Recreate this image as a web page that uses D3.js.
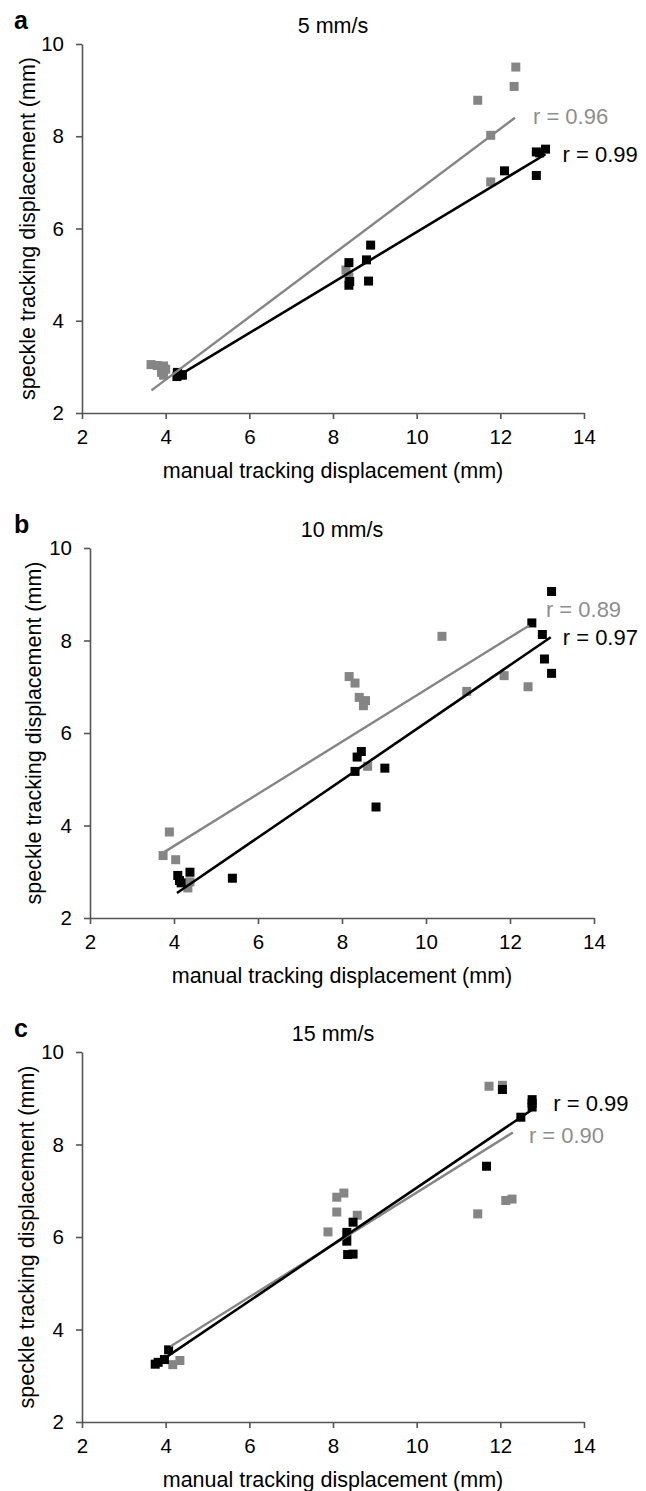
<!DOCTYPE html>
<html>
<head>
<meta charset="utf-8">
<script src="https://cdn.jsdelivr.net/npm/d3@7"></script>
<style>
  body { margin: 0; background: #fff; }
  text { font-family: "Liberation Sans", Arial, sans-serif; }
</style>
</head>
<body>
<svg id="chart"></svg>
<script>
const panelLetters = ['a', 'b', 'c'];
const panelTitles = ['5 mm/s', '10 mm/s', '15 mm/s'];
const xTicks = [2, 4, 6, 8, 10, 12, 14];
const yTicks = [2, 4, 6, 8, 10];
const xTitle = 'manual tracking displacement (mm)';
const yTitle = 'speckle tracking displacement (mm)';

// panel a, 5 mm/s  [manual, speckle]
const a_gray = [[3.65, 3.05], [3.8, 3.03], [3.95, 3.02], [3.9, 2.88], [4.0, 2.95], [3.95, 2.82],
  [8.31, 5.10], [8.38, 4.95], [11.46, 8.78], [12.33, 9.08], [12.37, 9.50], [11.77, 8.02], [11.77, 7.01]];
const a_black = [[4.27, 2.79], [4.36, 2.83], [4.28, 2.88], [4.40, 2.82], [8.38, 5.26], [8.38, 4.77],
  [8.40, 4.85], [8.80, 5.32], [8.90, 5.64], [8.85, 4.86], [12.10, 7.25], [12.86, 7.15],
  [12.86, 7.66], [12.94, 7.64], [13.08, 7.72]];
const a_grayFit = [[3.66, 2.49], [12.35, 8.40]];
const a_blackFit = [[4.22, 2.76], [13.08, 7.61]];
const a_r = ['0.96', '0.99'];

// panel b, 10 mm/s
const b_gray = [[3.74, 3.35], [3.89, 3.86], [4.04, 3.26], [4.33, 2.65], [4.38, 2.78], [8.17, 7.22],
  [8.31, 7.08], [8.41, 6.77], [8.56, 6.70], [8.51, 6.59], [8.61, 5.28], [10.38, 8.09],
  [10.97, 6.90], [11.86, 7.24], [12.43, 7.00]];
const b_black = [[4.09, 2.92], [4.13, 2.81], [4.17, 2.76], [4.38, 2.99], [5.39, 2.86], [8.31, 5.17],
  [8.36, 5.48], [8.46, 5.60], [9.02, 5.24], [8.81, 4.40], [12.52, 8.38], [12.77, 8.13],
  [12.82, 7.60], [12.99, 7.29], [12.99, 9.06]];
const b_grayFit = [[3.67, 3.37], [12.45, 8.32]];
const b_blackFit = [[4.07, 2.54], [12.97, 8.07]];
const b_r = ['0.89', '0.97'];

// panel c, 15 mm/s
const c_gray = [[4.17, 3.24], [4.34, 3.33], [7.88, 6.11], [8.09, 6.54], [8.09, 6.86], [8.26, 6.95],
  [8.58, 6.47], [11.46, 6.50], [11.73, 9.26], [12.05, 9.28], [12.13, 6.79], [12.28, 6.82]];
const c_black = [[3.75, 3.25], [3.82, 3.29], [3.97, 3.35], [4.07, 3.56], [8.33, 6.10], [8.33, 5.91],
  [8.35, 5.62], [8.48, 5.63], [8.48, 6.32], [11.67, 7.53], [12.05, 9.19], [12.49, 8.59],
  [12.76, 8.97], [12.76, 8.81], [12.76, 8.89]];
const c_grayFit = [[4.12, 3.64], [12.30, 8.26]];
const c_blackFit = [[3.75, 3.24], [12.74, 8.74]];
const c_r = ['0.90', '0.99'];

const GRAY = '#858585';
const GRAY_TEXT = '#8e8e8e';
const AXIS = '#555';

const svg = d3.select('#chart').attr('width', 646).attr('height', 1491);

// pixel frame of every panel and where the r labels sit next to the fit ends
const panels = [
  { gray: a_gray, black: a_black, grayFit: a_grayFit, blackFit: a_blackFit, r: a_r,
    left: 82, right: 584, top: 44, bottom: 413, yLabelX: 27,
    grayOff: [18, -2], blackOff: [17, 0] },
  { gray: b_gray, black: b_black, grayFit: b_grayFit, blackFit: b_blackFit, r: b_r,
    left: 90, right: 594, top: 548, bottom: 918, yLabelX: 33,
    grayOff: [17, -17], blackOff: [12, 0] },
  { gray: c_gray, black: c_black, grayFit: c_grayFit, blackFit: c_blackFit, r: c_r,
    left: 82, right: 584, top: 1052, bottom: 1422, yLabelX: 26,
    grayOff: [16, 3], blackOff: [22, -7] }
];

panels.forEach((p, i) => {
  const x = d3.scaleLinear().domain([2, 14]).range([p.left, p.right]);
  const y = d3.scaleLinear().domain([2, 10]).range([p.bottom, p.top]);
  const g = svg.append('g');

  // axes
  const xAxis = g.append('g')
    .attr('transform', `translate(0,${p.bottom})`)
    .call(d3.axisBottom(x).tickValues(xTicks).tickSize(6).tickPadding(10).tickSizeOuter(0));
  const yAxis = g.append('g')
    .attr('transform', `translate(${p.left},0)`)
    .call(d3.axisLeft(y).tickValues(yTicks).tickSize(6).tickPadding(12).tickSizeOuter(0));
  [xAxis, yAxis].forEach(ax => {
    ax.select('.domain').attr('stroke', AXIS).attr('stroke-width', 1.6);
    ax.selectAll('.tick line').attr('stroke', AXIS).attr('stroke-width', 1.6);
    ax.selectAll('.tick text')
      .attr('fill', '#000')
      .style('font-size', '20.5px')
      .style('font-family', '"Liberation Sans", Arial, sans-serif');
  });

  // squares
  const sq = 9;
  [[p.gray, GRAY], [p.black, '#000']].forEach(([pts, col]) => {
    g.append('g').selectAll('rect')
      .data(pts)
      .enter()
      .append('rect')
      .attr('x', d => x(d[0]) - sq / 2)
      .attr('y', d => y(d[1]) - sq / 2)
      .attr('width', sq)
      .attr('height', sq)
      .attr('fill', col);
  });

  // fitted lines
  const line = d3.line().x(d => x(d[0])).y(d => y(d[1]));
  g.append('path').attr('d', line(p.grayFit))
    .attr('fill', 'none').attr('stroke', GRAY).attr('stroke-width', 2.4);
  g.append('path').attr('d', line(p.blackFit))
    .attr('fill', 'none').attr('stroke', '#000').attr('stroke-width', 2.6);

  // r labels
  const gEnd = p.grayFit[1], bEnd = p.blackFit[1];
  g.append('text')
    .attr('x', x(gEnd[0]) + p.grayOff[0])
    .attr('y', y(gEnd[1]) + p.grayOff[1])
    .attr('dy', '0.36em')
    .attr('fill', GRAY_TEXT)
    .style('font-size', '22px')
    .text('r = ' + p.r[0]);
  g.append('text')
    .attr('x', x(bEnd[0]) + p.blackOff[0])
    .attr('y', y(bEnd[1]) + p.blackOff[1])
    .attr('dy', '0.36em')
    .attr('fill', '#000')
    .style('font-size', '22px')
    .text('r = ' + p.r[1]);

  // titles
  g.append('text')
    .attr('x', (p.left + p.right) / 2)
    .attr('y', p.top - 19)
    .attr('dy', '0.36em')
    .attr('text-anchor', 'middle')
    .style('font-size', '21.5px')
    .text(panelTitles[i]);

  g.append('text')
    .attr('x', 14)
    .attr('y', p.top - 24)
    .attr('dy', '0.36em')
    .style('font-size', '25px')
    .style('font-weight', 'bold')
    .text(panelLetters[i]);

  g.append('text')
    .attr('x', (p.left + p.right) / 2)
    .attr('y', p.bottom + 57)
    .attr('dy', '0.36em')
    .attr('text-anchor', 'middle')
    .style('font-size', '21.5px')
    .text(xTitle);

  g.append('text')
    .attr('transform', `translate(${p.yLabelX},${(p.top + p.bottom) / 2}) rotate(-90)`)
    .attr('dy', '0.36em')
    .attr('text-anchor', 'middle')
    .style('font-size', '21.5px')
    .text(yTitle);
});
</script>
</body>
</html>
